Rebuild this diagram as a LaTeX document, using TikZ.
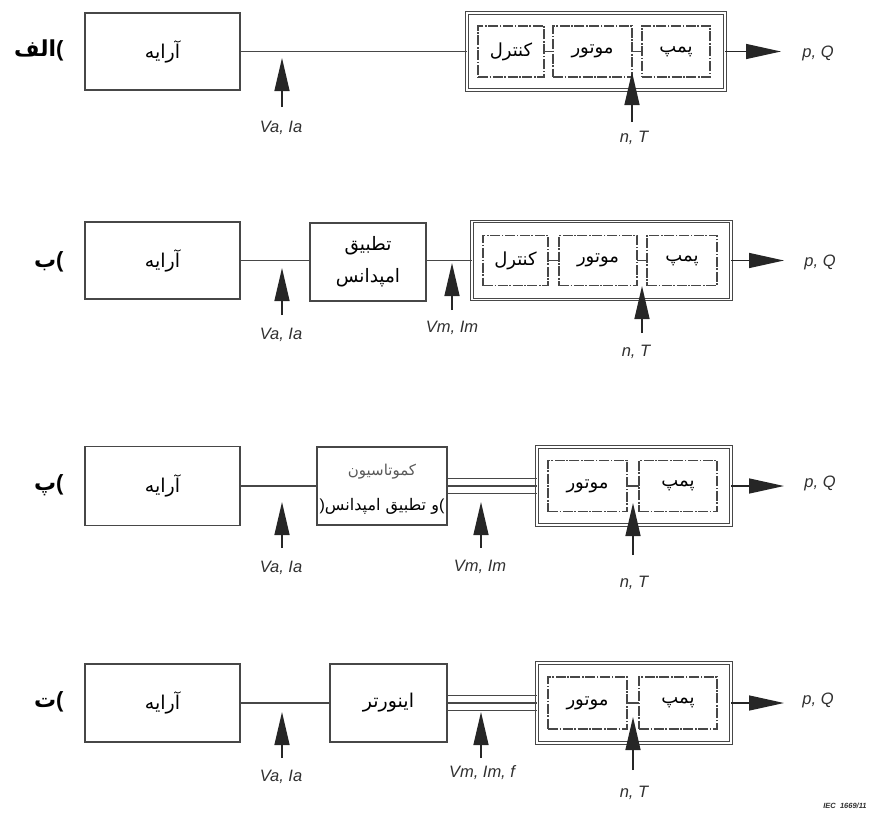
\documentclass[tikz,border=0pt]{standalone}
\usepackage{fontspec}
\usetikzlibrary{arrows.meta}
\TeXXeTstate=1
\newfontfamily\arabicfont[Script=Arabic]{DejaVu Sans}
\newfontfamily\latinfont{Liberation Sans}
% right-to-left Persian text
\newcommand{\fa}[1]{{\arabicfont\beginR #1\endR}}
\definecolor{linegray}{HTML}{474747}
\definecolor{labelgray}{HTML}{303030}

\tikzset{
  blockbox/.style={draw=linegray, line width=1.7pt, inner sep=0pt, outer sep=0pt,
    align=center, font=\arabicfont\fontsize{19}{32}\selectfont},
  groupbox/.style={draw=linegray, line width=1.1pt, double, double distance=1.6pt,
    inner sep=0pt, outer sep=0pt},
  partbox/.style={draw=linegray, line width=1.4pt,
    dash pattern=on 10pt off 1.6pt on 1.6pt off 1.6pt, inner sep=0pt, outer sep=0pt,
    align=center, font=\arabicfont\fontsize{18}{20}\selectfont},
  wire/.style={draw=linegray, line width=1.5pt},
  probe/.style={draw=black!85, line width=1.4pt, -{Triangle[length=33pt,width=15pt]}},
  outflow/.style={draw=black!85, line width=1.4pt, -{Triangle[length=35pt,width=15pt]}},
  qty/.style={text=labelgray, font=\latinfont\itshape\fontsize{16.5}{18}\selectfont},
  rowtag/.style={anchor=east, font=\bfseries\fontsize{22}{24}\selectfont}
}

\begin{document}
\begin{tikzpicture}[x=1pt, y=-1pt]
\useasboundingbox (0,0) rectangle (880,814);

% ---------------- row (a): direct coupling ----------------
\node[rowtag] (tag1) at (67,50) {\fa{الف}{\latinfont\bfseries(}};
\node[blockbox, minimum width=155pt, minimum height=77pt] (arr1) at (162.5,51.5) {\fa{آرایه}};
\node[groupbox, minimum width=258pt, minimum height=77pt] (grp1) at (596,51.5) {};
\node[partbox, minimum width=66pt, minimum height=51pt] (ctl1) at (511,51.5) {\fa{کنترل}};
\node[partbox, minimum width=79pt, minimum height=51pt] (mot1) at (592.5,51.5) {\fa{موتور}};
\node[partbox, minimum width=68pt, minimum height=51pt] (pmp1) at (676,51.5) {\fa{پمپ}};
\draw[wire] (arr1.east) -- (grp1.west);
\draw[wire] (ctl1.east) -- (mot1.west);
\draw[wire] (mot1.east) -- (pmp1.west);
\coordinate (va1b) at (282,107); \coordinate (va1t) at (282,58);
\coordinate (nt1b) at (632,122); \coordinate (nt1t) at (632,72);
\coordinate (pq1t) at (781,51.5);
\draw[probe] (va1b) -- (va1t);
\draw[probe] (nt1b) -- (nt1t);
\draw[outflow] (grp1.east) -- (pq1t);
\node[qty] (lva1) at (281,128) {Va, Ia};
\node[qty] (lnt1) at (634,138) {n, T};
\node[qty] (lpq1) at (818,53) {p, Q};

% ---------------- row (b): impedance matching ----------------
\node[rowtag] (tag2) at (67,262) {\fa{ب}{\latinfont\bfseries(}};
\node[blockbox, minimum width=155pt, minimum height=77pt] (arr2) at (162.5,260.5) {\fa{آرایه}};
\node[blockbox, minimum width=116pt, minimum height=78pt, font=\arabicfont\fontsize{18.5}{32}\selectfont]
  (imp2) at (368,262) {\fa{تطبیق}\\\fa{امپدانس}};
\node[groupbox, minimum width=259pt, minimum height=78pt] (grp2) at (601.5,260.5) {};
\node[partbox, minimum width=65pt, minimum height=50pt] (ctl2) at (515.5,260.5) {\fa{کنترل}};
\node[partbox, minimum width=78pt, minimum height=50pt] (mot2) at (598,260.5) {\fa{موتور}};
\node[partbox, minimum width=70pt, minimum height=50pt] (pmp2) at (682,260.5) {\fa{پمپ}};
\draw[wire] (arr2.east) -- (arr2.east -| imp2.west);
\draw[wire] (imp2.east |- grp2.west) -- (grp2.west);
\draw[wire] (ctl2.east) -- (mot2.west);
\draw[wire] (mot2.east) -- (pmp2.west);
\coordinate (va2b) at (282,315); \coordinate (va2t) at (282,268);
\coordinate (vm2b) at (452,310); \coordinate (vm2t) at (452,263);
\coordinate (nt2b) at (642,333); \coordinate (nt2t) at (642,286);
\coordinate (pq2t) at (784,260.5);
\draw[probe] (va2b) -- (va2t);
\draw[probe] (vm2b) -- (vm2t);
\draw[probe] (nt2b) -- (nt2t);
\draw[outflow] (grp2.east) -- (pq2t);
\node[qty] (lva2) at (281,335) {Va, Ia};
\node[qty] (lvm2) at (452,328) {Vm, Im};
\node[qty] (lnt2) at (636,352) {n, T};
\node[qty] (lpq2) at (820,262) {p, Q};

% ---------------- row (c): commutation ----------------
\node[rowtag] (tag3) at (67,485) {\fa{پ}{\latinfont\bfseries(}};
\node[blockbox, minimum width=155pt, minimum height=79pt] (arr3) at (162.5,486) {\fa{آرایه}};
\node[blockbox, minimum width=130pt, minimum height=78pt] (com3) at (382,486) {};
\node[font=\arabicfont\fontsize{15}{18}\selectfont, text=black!65] (com3a) at (382,472) {\fa{کموتاسیون}};
\node[font=\arabicfont\fontsize{16}{18}\selectfont, inner sep=0pt] (com3b) at (382,506)
  {{\latinfont)}\fa{و تطبیق امپدانس}{\latinfont(}};
\node[groupbox, minimum width=194pt, minimum height=78pt] (grp3) at (634,486) {};
\node[partbox, minimum width=79pt, minimum height=51pt] (mot3) at (587.5,486) {\fa{موتور}};
\node[partbox, minimum width=78pt, minimum height=51pt] (pmp3) at (678,486) {\fa{پمپ}};
\draw[wire] (arr3.east) -- (com3.west);
\foreach \dy in {-7.5,0,7.5}
  \draw[wire] ([yshift=\dy pt]com3.east) -- ([yshift=\dy pt]grp3.west);
\draw[wire] (mot3.east) -- (pmp3.west);
\coordinate (va3b) at (282,548); \coordinate (va3t) at (282,502);
\coordinate (vm3b) at (481,548); \coordinate (vm3t) at (481,502);
\coordinate (nt3b) at (633,555); \coordinate (nt3t) at (633,503);
\coordinate (pq3t) at (784,486);
\draw[probe] (va3b) -- (va3t);
\draw[probe] (vm3b) -- (vm3t);
\draw[probe] (nt3b) -- (nt3t);
\draw[outflow] (grp3.east) -- (pq3t);
\node[qty] (lva3) at (281,568) {Va, Ia};
\node[qty] (lvm3) at (480,567) {Vm, Im};
\node[qty] (lnt3) at (634,583) {n, T};
\node[qty] (lpq3) at (820,483) {p, Q};

% ---------------- row (d): inverter ----------------
\node[rowtag] (tag4) at (67,702) {\fa{ت}{\latinfont\bfseries(}};
\node[blockbox, minimum width=155pt, minimum height=78pt] (arr4) at (162.5,703) {\fa{آرایه}};
\node[blockbox, minimum width=117pt, minimum height=78pt] (inv4) at (388.5,703) {\fa{اینورتر}};
\node[groupbox, minimum width=194pt, minimum height=80pt] (grp4) at (634,703) {};
\node[partbox, minimum width=79pt, minimum height=52pt] (mot4) at (587.5,703) {\fa{موتور}};
\node[partbox, minimum width=78pt, minimum height=52pt] (pmp4) at (678,703) {\fa{پمپ}};
\draw[wire] (arr4.east) -- (inv4.west);
\foreach \dy in {-7.5,0,7.5}
  \draw[wire] ([yshift=\dy pt]inv4.east) -- ([yshift=\dy pt]grp4.west);
\draw[wire] (mot4.east) -- (pmp4.west);
\coordinate (va4b) at (282,758); \coordinate (va4t) at (282,712);
\coordinate (vm4b) at (481,758); \coordinate (vm4t) at (481,712);
\coordinate (nt4b) at (633,770); \coordinate (nt4t) at (633,717);
\coordinate (pq4t) at (784,703);
\draw[probe] (va4b) -- (va4t);
\draw[probe] (vm4b) -- (vm4t);
\draw[probe] (nt4b) -- (nt4t);
\draw[outflow] (grp4.east) -- (pq4t);
\node[qty] (lva4) at (281,777) {Va, Ia};
\node[qty] (lvm4) at (482,773) {Vm, Im, f};
\node[qty] (lnt4) at (634,793) {n, T};
\node[qty] (lpq4) at (818,700) {p, Q};

\node[text=labelgray, font=\latinfont\itshape\bfseries\fontsize{7.5}{8}\selectfont] (iec) at (845,806) {IEC~~1669/11};
\end{tikzpicture}
\end{document}
